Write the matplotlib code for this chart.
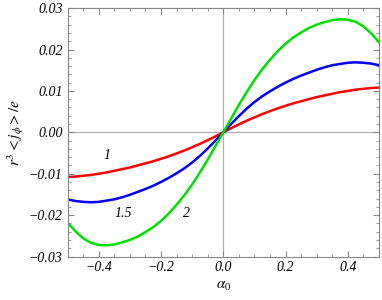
import matplotlib
matplotlib.use("Agg")
import matplotlib.pyplot as plt
from matplotlib.ticker import MultipleLocator, FuncFormatter

plt.rcParams["font.family"] = "Liberation Serif"
plt.rcParams["mathtext.fontset"] = "stix"

alpha = [-0.5, -0.475, -0.45, -0.425, -0.4, -0.375, -0.35, -0.325, -0.3, -0.275,
         -0.25, -0.225, -0.2, -0.175, -0.15, -0.125, -0.1, -0.075, -0.05, -0.025,
         0.0,
         0.025, 0.05, 0.075, 0.1, 0.125, 0.15, 0.175, 0.2, 0.225, 0.25,
         0.275, 0.3, 0.325, 0.35, 0.375, 0.4, 0.425, 0.45, 0.475, 0.5]
curve_1 = [-0.0108, -0.0107, -0.0105, -0.0103, -0.0100, -0.0097, -0.0093, -0.0089, -0.0085, -0.0080,
           -0.0075, -0.0070, -0.0064, -0.0058, -0.0051, -0.0044, -0.0036, -0.0028, -0.0019, -0.0010,
           0.0,
           0.0010, 0.0019, 0.0028, 0.0036, 0.0044, 0.0051, 0.0058, 0.0064, 0.0070, 0.0075,
           0.0080, 0.0085, 0.0089, 0.0093, 0.0097, 0.0100, 0.0103, 0.0105, 0.0107, 0.0108]
curve_15 = [-0.0162, -0.0166, -0.0168, -0.0169, -0.0168, -0.0165, -0.0162, -0.0157, -0.0151, -0.0144,
            -0.0137, -0.0129, -0.0120, -0.0110, -0.0099, -0.0087, -0.0073, -0.0057, -0.0039, -0.0020,
            0.0,
            0.0020, 0.0039, 0.0057, 0.0073, 0.0087, 0.0099, 0.0110, 0.0120, 0.0129, 0.0137,
            0.0144, 0.0151, 0.0157, 0.0162, 0.0165, 0.0168, 0.0169, 0.0168, 0.0166, 0.0162]
curve_2 = [-0.0218, -0.0239, -0.0256, -0.0267, -0.0272, -0.0273, -0.0271, -0.0266, -0.0260, -0.0252,
           -0.0241, -0.0229, -0.0214, -0.0196, -0.0175, -0.0152, -0.0126, -0.0097, -0.0066, -0.0033,
           0.0,
           0.0033, 0.0066, 0.0097, 0.0126, 0.0152, 0.0175, 0.0196, 0.0214, 0.0229, 0.0241,
           0.0252, 0.0260, 0.0266, 0.0271, 0.0273, 0.0272, 0.0267, 0.0256, 0.0239, 0.0218]

fig = plt.figure(figsize=(3.82, 3.0), dpi=100)
ax = fig.add_axes([0.177, 0.145, 0.815, 0.828])

ax.axhline(0, color="#b0b0b0", lw=0.9, zorder=1)
ax.axvline(0, color="#b0b0b0", lw=0.9, zorder=1)

ax.plot(alpha, curve_1, color="#ff0000", lw=1.8)
ax.plot(alpha, curve_15, color="#0000ff", lw=1.8)
ax.plot(alpha, curve_2, color="#00e000", lw=1.8)

ax.text(-0.385, -0.0065, "1", style="italic", fontsize=10)
ax.text(-0.35, -0.0205, "1.5", style="italic", fontsize=10)
ax.text(-0.13, -0.0205, "2", style="italic", fontsize=10)

ax.set_xlim(-0.5, 0.5)
ax.set_ylim(-0.03, 0.03)
ax.xaxis.set_major_locator(MultipleLocator(0.2))
ax.xaxis.set_minor_locator(MultipleLocator(0.05))
ax.yaxis.set_major_locator(MultipleLocator(0.01))
ax.yaxis.set_minor_locator(MultipleLocator(0.002))
ax.xaxis.set_major_formatter(FuncFormatter(lambda v, p: f"{v:.1f}".replace("-", "\u2212")))
ax.yaxis.set_major_formatter(FuncFormatter(lambda v, p: f"{v:.2f}".replace("-", "\u2212")))
ax.tick_params(which="both", direction="in", top=True, right=True, color="#888888", labelsize=10)
ax.tick_params(which="major", length=4)
ax.tick_params(which="minor", length=2)
for lab in ax.get_xticklabels() + ax.get_yticklabels():
    lab.set_style("italic")
for s in ax.spines.values():
    s.set_color("#888888")
    s.set_linewidth(0.8)

ax.set_xlabel(r"$\alpha_0$", fontsize=11)
ax.set_ylabel(r"$r^3 < j_\phi > / e$", fontsize=11, labelpad=2)

fig.savefig("out.png", dpi=100)
